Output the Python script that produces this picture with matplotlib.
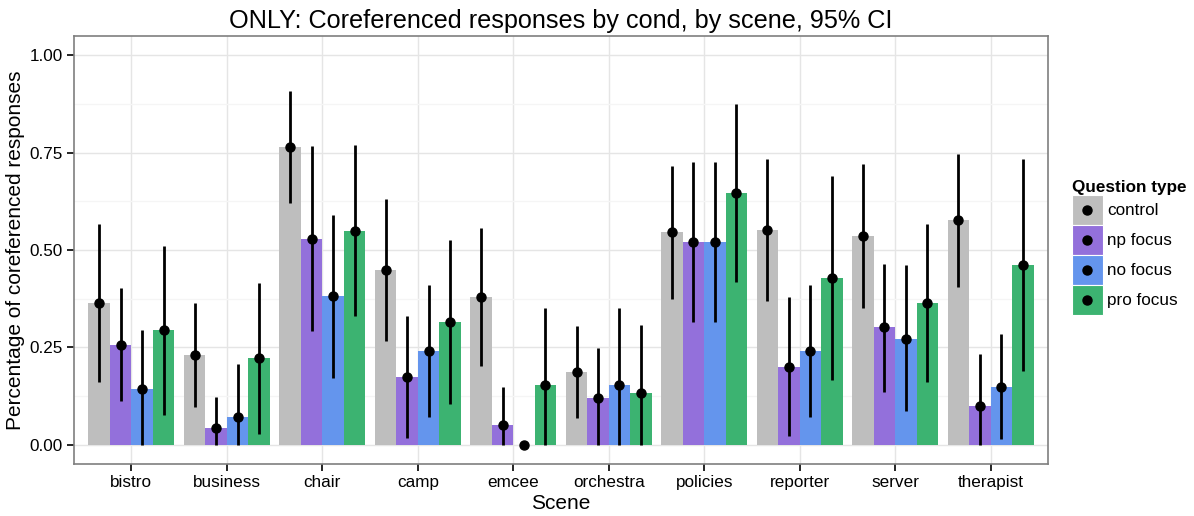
import numpy as np
import matplotlib
matplotlib.use("Agg")
import matplotlib.pyplot as plt
from matplotlib.patches import Rectangle
from matplotlib.lines import Line2D
from matplotlib.legend_handler import HandlerBase

plt.rcParams['font.family'] = ['Liberation Sans', 'DejaVu Sans']

scenes = ['bistro', 'business', 'chair', 'camp', 'emcee', 'orchestra',
          'policies', 'reporter', 'server', 'therapist']
conds = ['control', 'np focus', 'no focus', 'pro focus']
colors = ['#BEBEBE', '#9370DB', '#6495ED', '#3CB371']

# mean proportion per scene, one list per condition
control = [0.364, 0.231, 0.765, 0.449, 0.379, 0.186, 0.545, 0.551, 0.536, 0.576]
np_focus = [0.256, 0.042, 0.529, 0.174, 0.050, 0.120, 0.521, 0.199, 0.301, 0.100]
no_focus = [0.143, 0.072, 0.381, 0.240, 0.000, 0.154, 0.521, 0.240, 0.272, 0.149]
pro_focus = [0.294, 0.222, 0.550, 0.315, 0.154, 0.133, 0.647, 0.428, 0.363, 0.462]

# 95% CI bounds
control_lo = [0.162, 0.097, 0.620, 0.266, 0.201, 0.068, 0.374, 0.369, 0.350, 0.406]
control_hi = [0.567, 0.365, 0.908, 0.630, 0.557, 0.304, 0.717, 0.735, 0.722, 0.746]
np_lo = [0.111, 0.000, 0.291, 0.018, 0.000, 0.000, 0.315, 0.021, 0.135, 0.000]
np_hi = [0.403, 0.123, 0.768, 0.331, 0.147, 0.249, 0.727, 0.378, 0.465, 0.233]
no_lo = [0.000, 0.000, 0.172, 0.071, 0.000, 0.000, 0.315, 0.071, 0.085, 0.013]
no_hi = [0.294, 0.208, 0.590, 0.409, 0.000, 0.352, 0.727, 0.409, 0.461, 0.284]
pro_lo = [0.075, 0.028, 0.331, 0.105, 0.000, 0.000, 0.417, 0.167, 0.162, 0.189]
pro_hi = [0.511, 0.416, 0.770, 0.526, 0.352, 0.308, 0.876, 0.690, 0.566, 0.735]

means = [control, np_focus, no_focus, pro_focus]
lows = [control_lo, np_lo, no_lo, pro_lo]
highs = [control_hi, np_hi, no_hi, pro_hi]


class FillDotHandler(HandlerBase):
    # coloured key box with a black point in the middle
    def create_artists(self, legend, orig, xdescent, ydescent, width, height,
                       fontsize, trans):
        box = Rectangle((-xdescent, -ydescent), width, height,
                        facecolor=orig.get_facecolor(), edgecolor='white',
                        lw=0.8, transform=trans)
        dot = Line2D([width / 2 - xdescent], [height / 2 - ydescent],
                     marker='o', color='black', ms=6.5, ls='none', transform=trans)
        return [box, dot]


fig = plt.figure(figsize=(11.94, 5.16), dpi=100)
ax = fig.add_axes([74 / 1194, 52 / 516, 974 / 1194, 428 / 516])

x = np.arange(len(scenes))
w = 0.9 / 4
for i in range(4):
    pos = x - 0.45 + w / 2 + i * w
    ax.bar(pos, means[i], width=w, color=colors[i], zorder=2)
    ax.vlines(pos, lows[i], highs[i], color='black', lw=2, zorder=3)
    ax.plot(pos, means[i], 'o', color='black', ms=6.5, zorder=4)

ax.set_xlim(-0.6, 9.6)
ax.set_ylim(-0.05, 1.05)
ax.set_xticks(x)
ax.set_xticklabels(scenes, fontsize=12.3)
ax.set_yticks([0, 0.25, 0.5, 0.75, 1.0])
ax.set_yticklabels(['0.00', '0.25', '0.50', '0.75', '1.00'], fontsize=12.3)
ax.set_yticks([0.125, 0.375, 0.625, 0.875], minor=True)
ax.grid(True, which='major', color='#E5E5E5', lw=1, zorder=0)
ax.grid(True, which='minor', axis='y', color='#F5F5F5', lw=1, zorder=0)
ax.tick_params(axis='both', which='major', length=5, width=1.2, color='black',
               labelcolor='black', pad=3)
ax.tick_params(axis='both', which='minor', length=0)
for s in ax.spines.values():
    s.set_color('#7F7F7F')
    s.set_linewidth(1.2)
ax.set_axisbelow(True)

ax.set_xlabel('Scene', fontsize=15, labelpad=3)
ax.set_ylabel('Percentage of coreferenced responses', fontsize=15, labelpad=3)
ax.set_title('ONLY: Coreferenced responses by cond, by scene, 95% CI', fontsize=18.2, pad=6)

handles = [Rectangle((0, 0), 1, 1, facecolor=c) for c in colors]
leg = fig.legend(handles, conds, title='Question type', loc='upper left',
                 bbox_to_anchor=(1072 / 1194, 1 - 180 / 516), frameon=False,
                 fontsize=12.3, handlelength=1.8, handleheight=2.32,
                 handletextpad=0.25, labelspacing=0.0, borderaxespad=0,
                 borderpad=0, handler_map={Rectangle: FillDotHandler()})
leg.get_title().set_fontweight('bold')
leg.get_title().set_fontsize(12.3)
leg._legend_box.align = 'left'

fig.savefig('out.png', dpi=100)
